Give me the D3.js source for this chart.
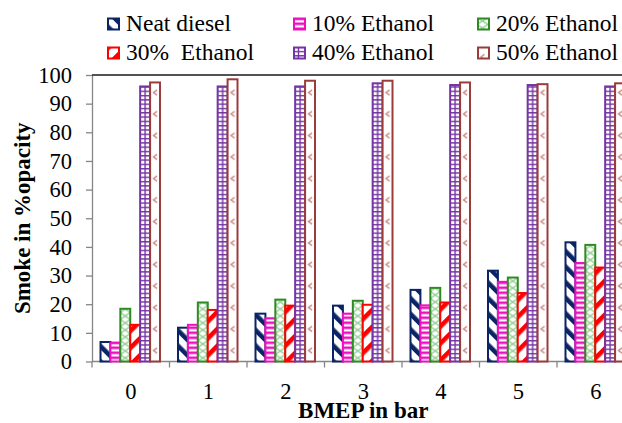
<!DOCTYPE html>
<html>
<head>
<meta charset="utf-8">
<script src="https://cdn.jsdelivr.net/npm/d3@7"></script>
<style>
  html, body { margin: 0; padding: 0; background: #fff; overflow: hidden; }
  svg { display: block; }
</style>
</head>
<body>
<svg id="chart" width="622" height="423"></svg>
<script>
// ---- data ----
const categories = ["0", "1", "2", "3", "4", "5", "6"];
const seriesNames = ["Neat diesel", "10% Ethanol", "20% Ethanol", "30%  Ethanol", "40% Ethanol", "50% Ethanol"];
const neatDiesel = [6.8, 11.8, 16.7, 19.5, 25.0, 31.7, 41.6];
const ethanol10  = [6.6, 12.8, 15.1, 16.7, 19.6, 27.8, 34.4];
const ethanol20  = [18.4, 20.6, 21.6, 21.2, 25.7, 29.3, 40.7];
const ethanol30  = [12.8, 18.0, 19.5, 19.8, 20.6, 23.9, 32.8];
const ethanol40  = [96.0, 96.0, 96.0, 97.1, 96.5, 96.5, 96.0];
const ethanol50  = [97.4, 98.5, 98.0, 98.0, 97.4, 96.8, 97.1];
const seriesValues = [neatDiesel, ethanol10, ethanol20, ethanol30, ethanol40, ethanol50];
const yTicks = [0, 10, 20, 30, 40, 50, 60, 70, 80, 90, 100];

const colors = ["#0A2466", "#EE10BE", "#2E8A22", "#FF0000", "#7434A4", "#9A3D3A"];
const FONT = "Liberation Serif";

// ---- layout ----
const svg = d3.select("#chart");
const defs = svg.append("defs");
const plotLeft = 92, plotTop = 75, plotBottom = 361.5, step = 77.5;
const plotRight = plotLeft + step * categories.length;

const x0 = d3.scaleBand().domain(categories).range([plotLeft, plotRight]).paddingInner(0).paddingOuter(0);
const x1 = d3.scaleBand().domain(d3.range(seriesNames.length)).range([8.5, step - 9.5]);
const y = d3.scaleLinear().domain([0, 100]).range([plotBottom, plotTop]);

// ---- pattern builders ----
function buildPattern(id, s, px, py, bw) {
  const c = colors[s];
  let p;
  if (s === 0) {
    p = defs.append("pattern").attr("id", id).attr("patternUnits", "userSpaceOnUse")
      .attr("width", 11).attr("height", 11).attr("patternTransform", "rotate(-45)");
    p.append("rect").attr("width", 11).attr("height", 11).attr("fill", "#fff");
    p.append("rect").attr("width", 4.6).attr("height", 11).attr("fill", c);
  } else if (s === 1) {
    p = defs.append("pattern").attr("id", id).attr("patternUnits", "userSpaceOnUse")
      .attr("x", px).attr("y", py).attr("width", bw).attr("height", 5);
    p.append("rect").attr("width", bw).attr("height", 5).attr("fill", "#fff");
    p.append("rect").attr("width", bw).attr("height", 2.6).attr("fill", c);
  } else if (s === 2) {
    p = defs.append("pattern").attr("id", id).attr("patternUnits", "userSpaceOnUse")
      .attr("x", px).attr("y", py).attr("width", bw).attr("height", 14);
    p.append("rect").attr("width", bw).attr("height", 14).attr("fill", "#fff");
    p.append("path").attr("d", `M0,0L${bw},7L0,14M${bw},0L0,7L${bw},14`)
      .attr("fill", "none").attr("stroke", "#86C886").attr("stroke-width", 1.2);
  } else if (s === 3) {
    p = defs.append("pattern").attr("id", id).attr("patternUnits", "userSpaceOnUse")
      .attr("width", 12).attr("height", 12).attr("patternTransform", "rotate(45)");
    p.append("rect").attr("width", 12).attr("height", 12).attr("fill", "#fff");
    p.append("rect").attr("width", 4.6).attr("height", 12).attr("fill", c);
  } else if (s === 4) {
    p = defs.append("pattern").attr("id", id).attr("patternUnits", "userSpaceOnUse")
      .attr("x", px).attr("y", py).attr("width", bw).attr("height", 4.3);
    p.append("rect").attr("width", bw).attr("height", 4.3).attr("fill", "#fff");
    p.append("rect").attr("width", bw).attr("height", 1.4).attr("fill", c);
    p.append("rect").attr("x", bw / 2 - 0.7).attr("width", 1.4).attr("height", 4.3).attr("fill", c);
  } else {
    p = defs.append("pattern").attr("id", id).attr("patternUnits", "userSpaceOnUse")
      .attr("x", px).attr("y", py).attr("width", bw).attr("height", 21.5);
    p.append("rect").attr("width", bw).attr("height", 21.5).attr("fill", "#fff");
    p.append("path").attr("d", `M${bw / 2 + 2},8L${bw / 2 - 1.5},10.5L${bw / 2 + 2},13`)
      .attr("fill", "none").attr("stroke", "#C98785").attr("stroke-width", 1.4);
  }
  return "url(#" + id + ")";
}

// ---- axes ----
const yAxis = d3.axisLeft(y).tickValues(yTicks).tickSize(6).tickPadding(14).tickSizeOuter(0);
const gy = svg.append("g").attr("transform", `translate(${plotLeft},0)`).call(yAxis);
gy.attr("font-family", FONT);
gy.select(".domain").attr("stroke", "#868686").attr("stroke-width", 1.3);
gy.selectAll(".tick line").attr("stroke", "#868686").attr("stroke-width", 1.3);
gy.selectAll(".tick text").attr("font-size", 22.5).attr("fill", "#000")
  .attr("font-family", FONT);

// x axis: ticks at band boundaries, labels at centers
const boundaries = d3.range(categories.length + 1).map(i => plotLeft + i * step);
const gx = svg.append("g");
gx.append("line").attr("x1", plotLeft).attr("x2", plotRight).attr("y1", plotBottom).attr("y2", plotBottom)
  .attr("stroke", "#868686").attr("stroke-width", 1.3);
gx.selectAll("line.tk").data(boundaries).join("line").attr("class", "tk")
  .attr("x1", d => d).attr("x2", d => d).attr("y1", plotBottom).attr("y2", plotBottom + 6)
  .attr("stroke", "#868686").attr("stroke-width", 1.3);
gx.selectAll("text").data(categories).join("text")
  .attr("x", d => x0(d) + x0.bandwidth() / 2).attr("y", plotBottom + 37)
  .attr("text-anchor", "middle").attr("font-size", 22.5).attr("font-family", FONT).text(d => d);

// top border
svg.append("line").attr("x1", plotLeft).attr("x2", plotRight).attr("y1", plotTop).attr("y2", plotTop)
  .attr("stroke", "#1a1a1a").attr("stroke-width", 1.4);

// ---- bars ----
const bw = x1.bandwidth();
const gBars = svg.append("g");
seriesValues.forEach((vals, s) => {
  vals.forEach((v, i) => {
    const bx = x0(categories[i]) + x1(s);
    const fill = buildPattern(`p${s}_${i}`, s, bx, y(0), bw);
    gBars.append("rect")
      .attr("x", bx).attr("y", y(v)).attr("width", bw).attr("height", y(0) - y(v))
      .attr("fill", fill).attr("stroke", colors[s]).attr("stroke-width", 2);
  });
});

// ---- axis titles ----
svg.append("text").attr("x", (plotLeft + plotRight) / 2).attr("y", 417.5)
  .attr("text-anchor", "middle").attr("font-size", 23).attr("font-weight", "bold")
  .attr("font-family", FONT).text("BMEP in bar");
svg.append("text").attr("transform", `translate(30,${(plotTop + plotBottom) / 2}) rotate(-90)`)
  .attr("text-anchor", "middle").attr("font-size", 23).attr("font-weight", "bold")
  .attr("font-family", FONT).text("Smoke in %opacity");

// ---- legend ----
const legX = [107, 293, 477];
const legY = [17.5, 46.5];
const gLeg = svg.append("g");
seriesNames.forEach((name, s) => {
  const col = s % 3, row = Math.floor(s / 3);
  const sx = legX[col], sy = legY[row];
  const fill = buildPattern(`leg${s}`, s, sx, sy, 11);
  gLeg.append("rect").attr("x", sx + 1).attr("y", sy + 1).attr("width", 11).attr("height", 11)
    .attr("fill", fill).attr("stroke", colors[s]).attr("stroke-width", 2);
  gLeg.append("text").attr("x", sx + 19).attr("y", sy + 13.5)
    .attr("font-size", 23.5).attr("font-family", FONT).style("white-space", "pre").text(name);
});
</script>
</body>
</html>
